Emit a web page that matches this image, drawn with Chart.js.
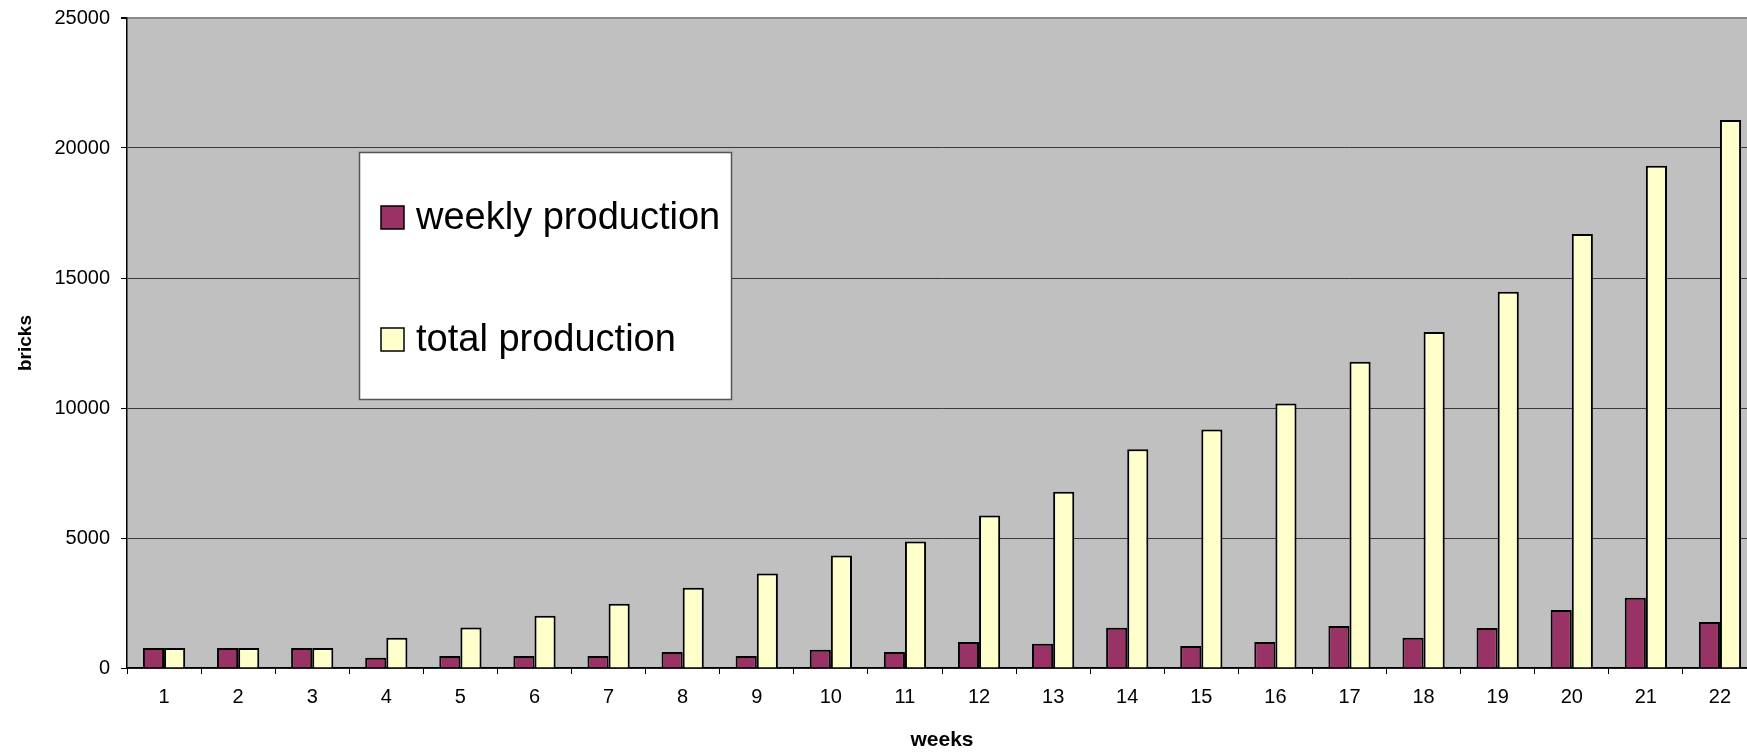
<!DOCTYPE html>
<html>
<head>
<meta charset="utf-8">
<script src="https://cdn.jsdelivr.net/npm/chart.js@4/dist/chart.umd.min.js"></script>
<style>
  html, body { margin: 0; padding: 0; background: #fff; overflow: hidden; }
  #wrap { position: absolute; left: 0; top: 0; width: 1760px; height: 753px; }
</style>
</head>
<body>
<div id="wrap"><canvas id="myChart"></canvas></div>
<script>
// weeks 1..22
var weeks = ["1", "2", "3", "4", "5", "6", "7", "8", "9", "10", "11",
             "12", "13", "14", "15", "16", "17", "18", "19", "20", "21", "22"];
var weeklyProduction = [770, 770, 770, 390, 460, 460, 460, 620, 460, 700, 620,
                        1000, 930, 1550, 850, 1000, 1620, 1160, 1540, 2230, 2700, 1770];
var totalProduction = [770, 770, 770, 1160, 1560, 2010, 2470, 3090, 3630, 4330, 4870,
                       5870, 6780, 8410, 9170, 10170, 11780, 12920, 14470, 16690, 19320, 21080];
var yTicks = [0, 5000, 10000, 15000, 20000, 25000];

var FONT = "'Liberation Sans', Arial, sans-serif";

// grey plot area
var plotBg = {
    id: "plotBg",
    beforeDraw: function (chart) {
        var a = chart.chartArea;
        var ctx = chart.ctx;
        ctx.save();
        ctx.fillStyle = "#c0c0c0";
        ctx.fillRect(a.left, a.top, a.right - a.left, a.bottom - a.top);
        ctx.restore();
    }
};

// legend box sitting inside the plot, like the spreadsheet one
var boxLegend = {
    id: "boxLegend",
    afterDatasetsDraw: function (chart) {
        var ctx = chart.ctx;
        var x = 359, y = 152, w = 372, h = 247;
        ctx.save();
        ctx.fillStyle = "#fff";
        ctx.fillRect(x, y, w, h);
        ctx.strokeStyle = "#555";
        ctx.lineWidth = 1.5;
        ctx.strokeRect(x + 0.5, y + 0.5, w, h);
        var rows = [217, 339];
        ctx.font = "38px " + FONT;
        ctx.textBaseline = "middle";
        chart.data.datasets.forEach(function (ds, i) {
            var cy = rows[i];
            ctx.fillStyle = ds.backgroundColor;
            ctx.fillRect(381, cy - 11, 23, 23);
            ctx.strokeStyle = "#000";
            ctx.lineWidth = 1.5;
            ctx.strokeRect(381, cy - 11, 23, 23);
            ctx.fillStyle = "#000";
            ctx.fillText(ds.label, 416, cy + 2);
        });
        ctx.restore();
    }
};

var ctx = document.getElementById("myChart").getContext("2d");

var myChart = new Chart(ctx, {
    type: "bar",
    data: {
        labels: weeks,
        datasets: [
            {
                label: "weekly production",
                data: weeklyProduction,
                backgroundColor: "#993366",
                borderColor: "#000",
                borderWidth: 2
            },
            {
                label: "total production",
                data: totalProduction,
                backgroundColor: "#ffffcc",
                borderColor: "#000",
                borderWidth: 2
            }
        ]
    },
    options: {
        responsive: true,
        maintainAspectRatio: false,
        animation: false,
        datasets: {
            bar: { categoryPercentage: 0.57, barPercentage: 1.0 }
        },
        layout: { padding: { top: 18, right: 3, bottom: 0, left: 0 } },
        plugins: {
            legend: { display: false },
            tooltip: { enabled: false }
        },
        scales: {
            x: {
                grid: {
                    display: true,
                    drawOnChartArea: false,
                    drawTicks: true,
                    tickLength: 6,
                    color: "#000"
                },
                border: { display: true, color: "#000", width: 1.5 },
                ticks: {
                    color: "#000",
                    font: { family: FONT, size: 20 },
                    padding: 11,
                    maxRotation: 0
                },
                title: {
                    display: true,
                    text: "weeks",
                    color: "#000",
                    font: { family: FONT, size: 21, weight: "bold" },
                    padding: { top: 0, bottom: 0 }
                },
                afterFit: function (scale) {
                    scale.height = 85;
                    scale.paddingLeft = 0;
                    scale.paddingRight = 0;
                }
            },
            y: {
                min: 0,
                max: 25000,
                afterBuildTicks: function (scale) {
                    scale.ticks = yTicks.map(function (v) { return { value: v }; });
                },
                grid: {
                    color: function (c) {
                        return c.tick && c.tick.value === 25000 ? "#8a8a8a" : "#3a3a3a";
                    },
                    lineWidth: function (c) {
                        return c.tick && c.tick.value === 25000 ? 2 : 1;
                    },
                    tickColor: "#000",
                    tickLength: 6
                },
                border: { display: true, color: "#000", width: 1.5 },
                ticks: {
                    color: "#000",
                    font: { family: FONT, size: 20 },
                    padding: 11,
                    callback: function (v) { return String(v); }
                },
                title: {
                    display: true,
                    text: "bricks",
                    color: "#000",
                    font: { family: FONT, size: 19, weight: "bold" },
                    padding: { top: 14, bottom: 0 }
                },
                afterFit: function (scale) {
                    scale.width = 127;
                    scale.paddingTop = 0;
                    scale.paddingBottom = 0;
                }
            }
        }
    },
    plugins: [plotBg, boxLegend]
});
</script>
</body>
</html>
